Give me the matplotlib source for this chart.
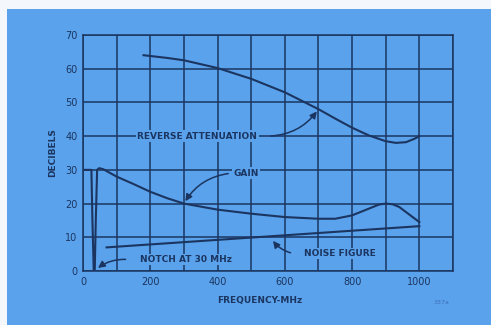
import matplotlib.pyplot as plt
from matplotlib.patches import Rectangle

# Datos
rev_x = [180, 250, 300, 400, 500, 600, 700, 750, 800, 850, 900, 930, 960, 985, 1000]
rev_y = [64, 63.2, 62.5, 60.2, 57, 53, 48, 45.2, 42.5, 40.2, 38.5, 38, 38.2, 39.2, 40]

gain_x = [0, 22, 25, 28, 32, 35, 38, 42, 48, 60, 100, 150, 200, 250, 300, 400, 500, 600,
          700, 750, 800, 850, 880, 900, 920, 940, 960, 980, 1000]
gain_y = [30, 30, 30, 15, 0, 0.5, 15, 30, 30.5, 30.2, 28, 25.8, 23.5, 21.6, 20, 18.2, 17, 16,
          15.5, 15.5, 16.5, 18.5, 19.7, 20, 19.8, 19, 17.5, 16, 14.5]

noise_x = [70, 1000]
noise_y = [7, 13.3]

x_ticks = [0, 200, 400, 600, 800, 1000]
y_ticks = [0, 10, 20, 30, 40, 50, 60, 70]

navy = '#1b3560'
blue = '#5aa2ec'

fig = plt.figure(figsize=(4.91, 3.25), dpi=100, facecolor=blue)
# borde blanco arriba y a la izquierda
fig.add_artist(Rectangle((0, 1 - 9 / 325), 1, 9 / 325, transform=fig.transFigure,
                         facecolor='#f4f8fc', edgecolor='none'))
fig.add_artist(Rectangle((0, 0), 7 / 491, 1, transform=fig.transFigure,
                         facecolor='#f4f8fc', edgecolor='none'))

ax = fig.add_axes([83 / 491, 54 / 325, 370 / 491, 236 / 325])
ax.set_facecolor(blue)
ax.set_xlim(0, 1100)
ax.set_ylim(0, 70)
ax.set_yticks(y_ticks)
ax.set_xticks(x_ticks)
ax.set_xticks(range(100, 1101, 200), minor=True)
ax.grid(True, color=navy, linewidth=1.1)
ax.grid(True, which='minor', axis='x', color=navy, linewidth=1.1)
ax.set_xticklabels([str(v) for v in x_ticks])
ax.tick_params(length=0, labelsize=7, colors=navy, pad=4)
ax.tick_params(which='minor', length=0)
for s in ax.spines.values():
    s.set_color(navy)
    s.set_linewidth(1.1)
ax.set_axisbelow(True)

ax.plot(rev_x, rev_y, color=navy, lw=1.5)
ax.plot(gain_x, gain_y, color=navy, lw=1.5)
ax.plot(noise_x, noise_y, color=navy, lw=1.5)

box = dict(facecolor=blue, edgecolor='none', pad=1)
fs = 6.5

ax.text(340, 40, 'REVERSE ATTENUATION', ha='center', va='center', fontsize=fs,
        fontweight='bold', color=navy, bbox=box)
ax.annotate('', xy=(700, 48), xytext=(550, 40),
            arrowprops=dict(arrowstyle='-|>', color=navy, lw=1.1, connectionstyle='arc3,rad=0.25'))

ax.text(485, 29, 'GAIN', ha='center', va='center', fontsize=fs, fontweight='bold',
        color=navy, bbox=box)
ax.annotate('', xy=(300, 20), xytext=(440, 29),
            arrowprops=dict(arrowstyle='-|>', color=navy, lw=1.1, connectionstyle='arc3,rad=0.25'))

ax.text(765, 5.2, 'NOISE FIGURE', ha='center', va='center', fontsize=fs, fontweight='bold',
        color=navy, bbox=box)
ax.annotate('', xy=(560, 9.6), xytext=(625, 5.2),
            arrowprops=dict(arrowstyle='-|>', color=navy, lw=1.1, connectionstyle='arc3,rad=-0.2'))

ax.text(305, 3.4, 'NOTCH AT 30 MHz', ha='center', va='center', fontsize=fs, fontweight='bold',
        color=navy, bbox=box)
ax.annotate('', xy=(38, 0.4), xytext=(135, 3.4),
            arrowprops=dict(arrowstyle='-|>', color=navy, lw=1.1, connectionstyle='arc3,rad=0.2'))

ax.set_xlabel('FREQUENCY-MHz', fontsize=6.5, fontweight='bold', color=navy)
ax.set_ylabel('DECIBELS', fontsize=6.5, fontweight='bold', color=navy, labelpad=6)
ax.xaxis.set_label_coords(0.478, -0.105)

fig.text(441 / 491, 1 - 302 / 325, '337a', fontsize=4.5, color='#3d6fb8', ha='center', va='center')

fig.savefig('out.png', dpi=100, facecolor=blue)
